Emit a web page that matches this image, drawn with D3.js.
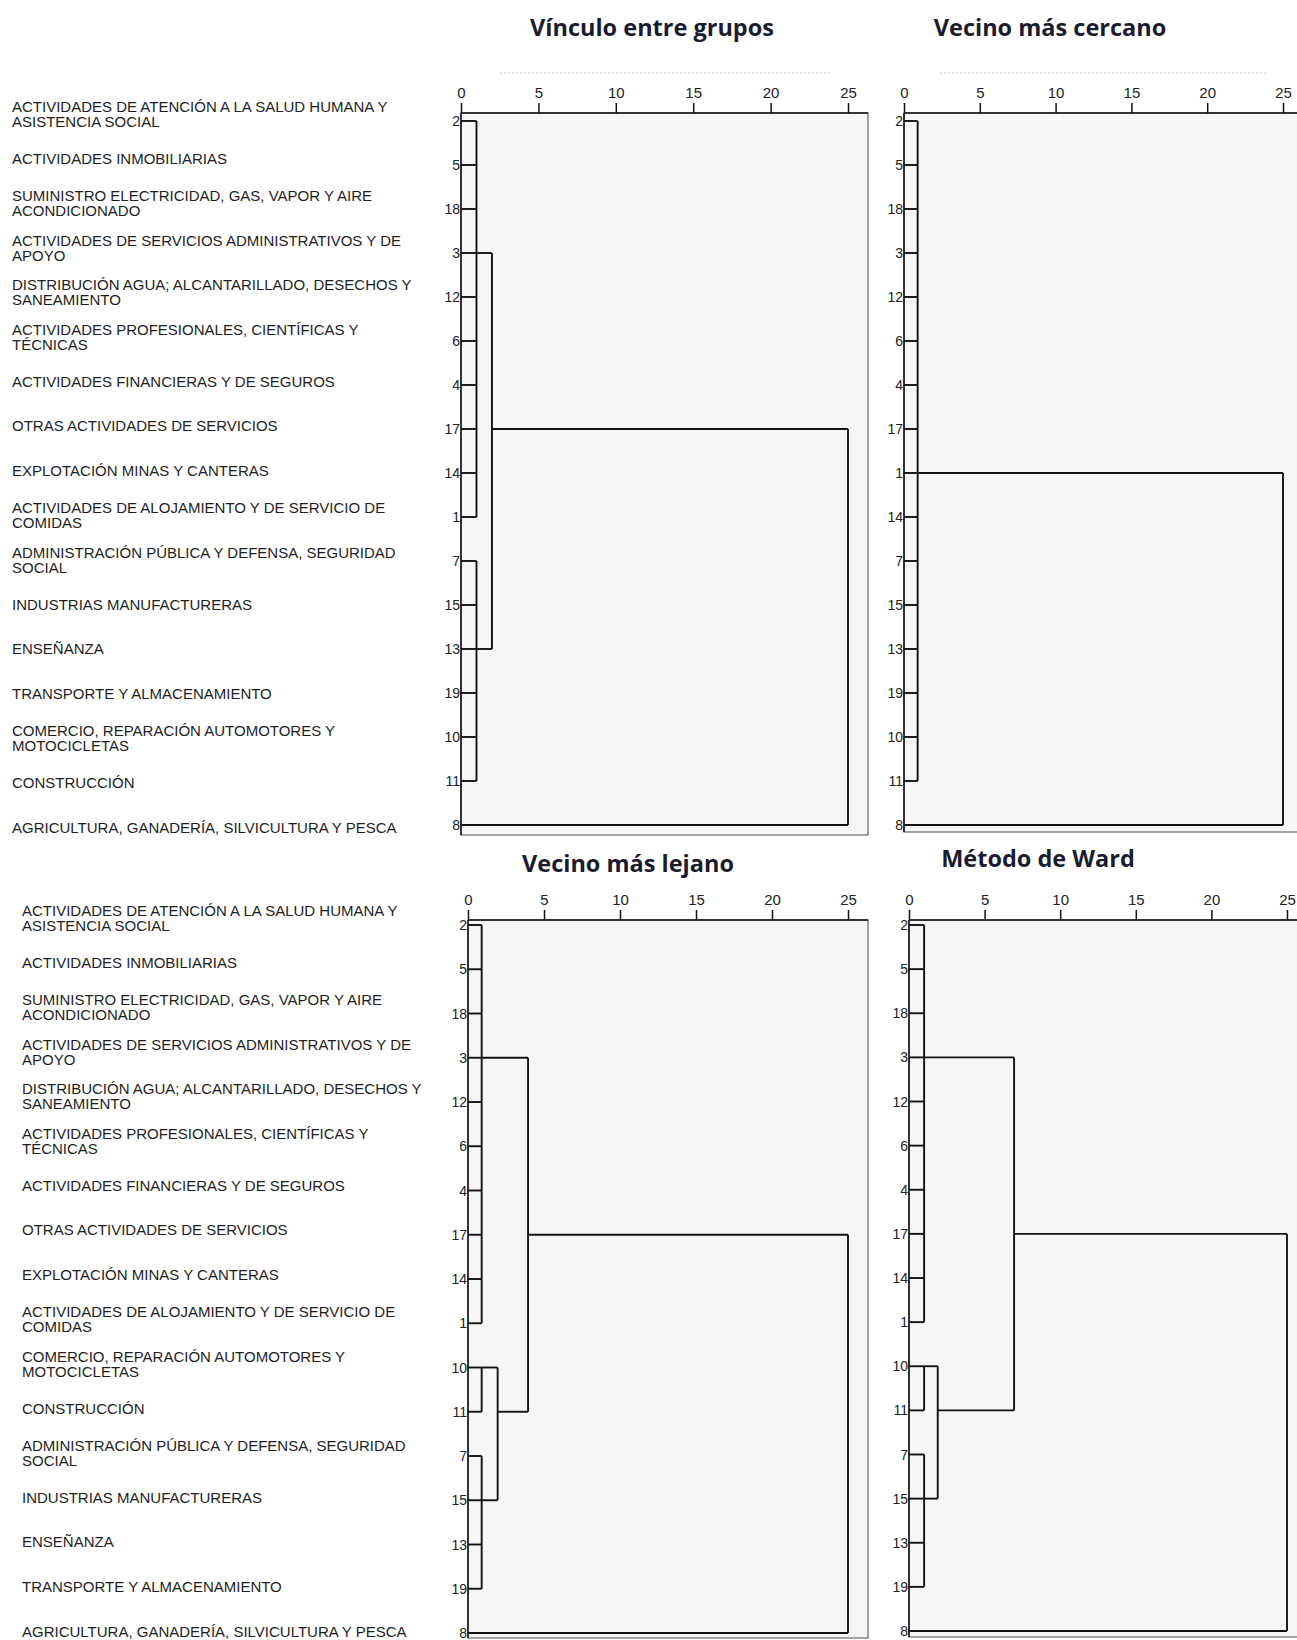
<!DOCTYPE html>
<html>
<head>
<meta charset="utf-8">
<script src="https://cdn.jsdelivr.net/npm/d3@7"></script>
<style>
  body { margin: 0; background: #fff; }
  .title { font-family: "Open Sans", "Noto Sans", sans-serif; font-weight: 700; font-size: 23.5px; fill: #1b1b30; }
  .label { font-family: "Liberation Sans", Arial, sans-serif; font-size: 15px; fill: #1e1e1e; }
  .num { font-family: "Liberation Sans Narrow", "Arial Narrow", "Liberation Sans", sans-serif; font-size: 14px; fill: #222; }
  .tick text { font-family: "Liberation Sans Narrow", "Arial Narrow", "Liberation Sans", sans-serif; font-size: 15px; fill: #222; }
  .link { fill: none; stroke: #121212; stroke-width: 1.9; }
</style>
</head>
<body>
<div id="chart"></div>
<script>
const W = 1297, H = 1640;

// case number -> sector name (split in lines as in the picture)
const caseNames = {
  1: ["ACTIVIDADES DE ALOJAMIENTO Y DE SERVICIO DE", "COMIDAS"],
  2: ["ACTIVIDADES DE ATENCIÓN A LA SALUD HUMANA Y", "ASISTENCIA SOCIAL"],
  3: ["ACTIVIDADES DE SERVICIOS ADMINISTRATIVOS Y DE", "APOYO"],
  4: ["ACTIVIDADES FINANCIERAS Y DE SEGUROS"],
  5: ["ACTIVIDADES INMOBILIARIAS"],
  6: ["ACTIVIDADES PROFESIONALES, CIENTÍFICAS Y", "TÉCNICAS"],
  7: ["ADMINISTRACIÓN PÚBLICA Y DEFENSA, SEGURIDAD", "SOCIAL"],
  8: ["AGRICULTURA, GANADERÍA,  SILVICULTURA Y PESCA"],
  10: ["COMERCIO, REPARACIÓN AUTOMOTORES Y", "MOTOCICLETAS"],
  11: ["CONSTRUCCIÓN"],
  12: ["DISTRIBUCIÓN AGUA; ALCANTARILLADO, DESECHOS Y", "SANEAMIENTO"],
  13: ["ENSEÑANZA"],
  14: ["EXPLOTACIÓN MINAS Y CANTERAS"],
  15: ["INDUSTRIAS MANUFACTURERAS"],
  17: ["OTRAS ACTIVIDADES DE SERVICIOS"],
  18: ["SUMINISTRO ELECTRICIDAD, GAS, VAPOR Y AIRE", "ACONDICIONADO"],
  19: ["TRANSPORTE Y ALMACENAMIENTO"]
};

const axisTicks = [0, 5, 10, 15, 20, 25];

// leaf orders of each dendrogram
const orderGroups  = [2, 5, 18, 3, 12, 6, 4, 17, 14, 1, 7, 15, 13, 19, 10, 11, 8];
const orderNearest = [2, 5, 18, 3, 12, 6, 4, 17, 1, 14, 7, 15, 13, 19, 10, 11, 8];
const orderFarthest = [2, 5, 18, 3, 12, 6, 4, 17, 14, 1, 10, 11, 7, 15, 13, 19, 8];
const orderWard    = [2, 5, 18, 3, 12, 6, 4, 17, 14, 1, 10, 11, 7, 15, 13, 19, 8];

// merges: children, rescaled distance, row where the link leaves
const mergesGroups = [
  { id: "A", kids: [2, 5, 18, 3, 12, 6, 4, 17, 14, 1], h: 1.0, at: 3 },
  { id: "B", kids: [7, 15, 13, 19, 10, 11], h: 1.0, at: 13 },
  { id: "AB", kids: ["A", "B"], h: 2.0, at: 17 },
  { id: "root", kids: ["AB", 8], h: 25, at: null }
];
const mergesNearest = [
  { id: "A", kids: [2, 5, 18, 3, 12, 6, 4, 17, 1, 14, 7, 15, 13, 19, 10, 11], h: 0.9, at: 1 },
  { id: "root", kids: ["A", 8], h: 25, at: null }
];
const mergesFarthest = [
  { id: "A", kids: [2, 5, 18, 3, 12, 6, 4, 17, 14, 1], h: 0.9, at: 3 },
  { id: "C1", kids: [10, 11], h: 0.9, at: 10 },
  { id: "C2", kids: [7, 15, 13, 19], h: 0.9, at: 15 },
  { id: "B", kids: ["C1", "C2"], h: 1.95, at: 11 },
  { id: "AB", kids: ["A", "B"], h: 3.95, at: 17 },
  { id: "root", kids: ["AB", 8], h: 25, at: null }
];
const mergesWard = [
  { id: "A", kids: [2, 5, 18, 3, 12, 6, 4, 17, 14, 1], h: 1.0, at: 3 },
  { id: "C1", kids: [10, 11], h: 1.0, at: 10 },
  { id: "C2", kids: [7, 15, 13, 19], h: 1.0, at: 15 },
  { id: "B", kids: ["C1", "C2"], h: 1.9, at: 11 },
  { id: "AB", kids: ["A", "B"], h: 6.95, at: 17 },
  { id: "root", kids: ["AB", 8], h: 25, at: null }
];

const panels = [
  { title: "Vínculo entre grupos", tx: 652, ty: 36, order: orderGroups, merges: mergesGroups,
    xr: [461, 848], yr: [121, 825], top: 113, right: 868, bottom: 835, dots: [500, 831],
    labelX: 12, labelY: [114, 827] },
  { title: "Vecino más cercano", tx: 1050, ty: 36, order: orderNearest, merges: mergesNearest,
    xr: [904, 1283], yr: [121, 825], top: 113, right: 1305, bottom: 832, dots: [940, 1267] },
  { title: "Vecino más lejano", tx: 628, ty: 872, order: orderFarthest, merges: mergesFarthest,
    xr: [468, 848], yr: [925, 1633], top: 920, right: 868, bottom: 1638,
    labelX: 22, labelY: [918, 1631] },
  { title: "Método de Ward", tx: 1038, ty: 867, order: orderWard, merges: mergesWard,
    xr: [909, 1287], yr: [925, 1631], top: 920, right: 1305, bottom: 1637 }
];

const svg = d3.select("#chart").append("svg")
  .attr("width", W).attr("height", H);

function drawPanel(p) {
  const g = svg.append("g");
  const x = d3.scaleLinear().domain([0, 25]).range(p.xr);
  const y = d3.scalePoint().domain(p.order).range(p.yr);
  const x0 = x(0);

  // title
  g.append("text").attr("class", "title")
    .attr("x", p.tx).attr("y", p.ty)
    .attr("text-anchor", "middle").text(p.title);

  if (p.dots) {
    g.append("line")
      .attr("x1", p.dots[0]).attr("x2", p.dots[1])
      .attr("y1", 73).attr("y2", 73)
      .attr("stroke", "#c8c8c8").attr("stroke-width", 1)
      .attr("stroke-dasharray", "2,2");
  }

  // plot box
  g.append("rect")
    .attr("x", x0).attr("y", p.top)
    .attr("width", p.right - x0).attr("height", p.bottom - p.top)
    .attr("fill", "#f6f6f6").attr("stroke", "#6a6a6a").attr("stroke-width", 1.2);
  g.append("line").attr("x1", x0).attr("x2", x0)
    .attr("y1", p.top).attr("y2", p.bottom)
    .attr("stroke", "#333").attr("stroke-width", 2);
  g.append("line").attr("x1", x0).attr("x2", p.right)
    .attr("y1", p.top).attr("y2", p.top)
    .attr("stroke", "#111").attr("stroke-width", 1.6);

  // axis on top
  const ax = g.append("g")
    .attr("transform", `translate(0,${p.top})`)
    .call(d3.axisTop(x).tickValues(axisTicks).tickSize(10).tickPadding(5));
  ax.select(".domain").remove();
  ax.selectAll(".tick line").attr("stroke", "#111").attr("stroke-width", 1.5);

  // leaf numbers
  g.selectAll(".num").data(p.order).enter().append("text")
    .attr("class", "num")
    .attr("x", x0 - 1).attr("y", d => y(d) + 5)
    .attr("text-anchor", "end").text(d => d);

  // dendrogram links
  const nodes = {};
  p.order.forEach(d => { nodes[d] = { h: 0, y: y(d) }; });
  p.merges.forEach(m => {
    const kids = m.kids.map(k => nodes[k]);
    const ys = kids.map(k => k.y);
    g.append("line").attr("class", "link")
      .attr("x1", x(m.h)).attr("x2", x(m.h))
      .attr("y1", d3.min(ys)).attr("y2", d3.max(ys));
    kids.forEach(k => {
      g.append("line").attr("class", "link")
        .attr("x1", x(k.h)).attr("x2", x(m.h))
        .attr("y1", k.y).attr("y2", k.y);
    });
    nodes[m.id] = { h: m.h, y: m.at === null ? null : y(m.at) };
  });

  // sector names on the left
  if (p.labelX !== undefined) {
    const ly = d3.scalePoint().domain(p.order).range(p.labelY);
    p.order.forEach(d => {
      const lines = caseNames[d];
      const c = ly(d);
      const t = g.append("text").attr("class", "label");
      lines.forEach((s, i) => {
        const base = lines.length === 1 ? c + 5.5 : c - 2 + i * 15;
        t.append("tspan").attr("x", p.labelX).attr("y", base).text(s);
      });
    });
  }
}

panels.forEach(drawPanel);
</script>
</body>
</html>
